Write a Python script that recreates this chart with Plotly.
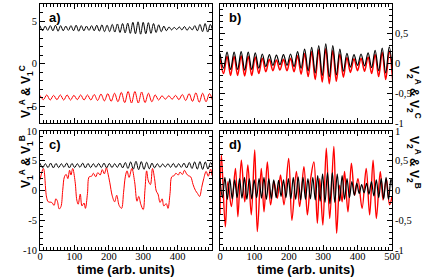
import numpy as np
import plotly.graph_objects as go

# ---------------- data ----------------
# Panel a: V1^A (black) and V1^C (red), successive peak / trough values
a_black_peaks = [4.45, 4.4, 4.45, 4.5, 4.45, 4.4, 4.45, 4.5, 4.45, 4.4, 4.45, 4.5, 4.55, 4.5, 4.6, 4.65, 4.7,
                 4.75, 4.85, 4.9, 4.85, 4.8, 4.7, 4.55, 4.4, 4.3, 4.25, 4.3, 4.35, 4.3, 4.45, 4.6, 4.7, 4.6]
a_black_troughs = [3.85, 3.9, 3.85, 3.8, 3.85, 3.9, 3.85, 3.8, 3.85, 3.9, 3.85, 3.8, 3.75, 3.75, 3.7, 3.65, 3.6,
                   3.55, 3.5, 3.45, 3.5, 3.55, 3.65, 3.75, 3.85, 3.95, 4.0, 3.95, 3.9, 3.95, 3.85, 3.75, 3.7, 3.75]
a_red_peaks = [-3.75, -3.7, -3.75, -3.7, -3.7, -3.75, -3.7, -3.7, -3.65, -3.6, -3.55, -3.5, -3.4, -3.3, -3.3,
               -3.35, -3.5, -3.7, -3.8, -3.8, -3.75, -3.65, -3.55, -3.45, -3.5, -3.55]
a_red_troughs = [-4.25, -4.3, -4.25, -4.3, -4.3, -4.25, -4.3, -4.3, -4.35, -4.4, -4.45, -4.5, -4.6, -4.65, -4.65,
                 -4.6, -4.5, -4.3, -4.2, -4.2, -4.25, -4.35, -4.45, -4.55, -4.5, -4.45]

# Panel b: V2^A (black) and V2^C (red)
b_black_peaks = [0.17, 0.19, 0.19, 0.2, 0.19, 0.18, 0.16, 0.15, 0.14, 0.15, 0.16, 0.2, 0.24, 0.27, 0.3, 0.33,
                 0.3, 0.24, 0.17, 0.15, 0.16, 0.18, 0.22, 0.26, 0.28]
b_black_troughs = [-0.08, -0.1, -0.1, -0.11, -0.1, -0.08, -0.05, -0.03, -0.02, -0.03, -0.05, -0.08, -0.12, -0.16,
                   -0.2, -0.22, -0.19, -0.13, -0.06, -0.03, -0.04, -0.07, -0.12, -0.16, -0.18]
b_red_peaks = [0.1, 0.12, 0.12, 0.13, 0.12, 0.11, 0.09, 0.07, 0.06, 0.07, 0.09, 0.13, 0.17, 0.2, 0.23, 0.25,
               0.22, 0.16, 0.1, 0.08, 0.09, 0.11, 0.15, 0.19, 0.21]
b_red_troughs = [-0.17, -0.2, -0.2, -0.21, -0.2, -0.17, -0.14, -0.12, -0.11, -0.12, -0.14, -0.18, -0.22, -0.27,
                 -0.31, -0.34, -0.3, -0.23, -0.15, -0.12, -0.13, -0.17, -0.22, -0.27, -0.3]

# Panel c: V1^A (black) and V1^B (red)
c_black_peaks = [4.6, 4.5, 4.6, 4.55, 4.5, 4.6, 4.55, 4.5, 4.6, 4.55, 4.5, 4.55, 4.6, 4.55, 4.5, 4.6, 4.7, 4.8,
                 4.9, 4.85, 4.75, 4.6, 4.5, 4.45, 4.5, 4.55, 4.5, 4.6, 4.7, 4.8, 4.85, 4.8, 4.7]
c_black_troughs = [3.8, 3.85, 3.8, 3.85, 3.9, 3.8, 3.85, 3.9, 3.8, 3.85, 3.9, 3.85, 3.8, 3.85, 3.9, 3.8, 3.7, 3.6,
                   3.5, 3.55, 3.65, 3.8, 3.9, 3.95, 3.9, 3.85, 3.9, 3.8, 3.7, 3.6, 3.55, 3.6, 3.7]
c_red_t = [0, 10, 19, 24, 34, 41, 46, 50, 56, 61, 66, 71, 76, 81, 86, 90, 95, 102, 107, 111,
           117, 122, 128, 132, 138, 143, 150, 155, 162, 168, 175, 181, 187, 193, 197, 203, 210, 217, 223, 230,
           237, 243, 248, 253, 259, 267, 275, 282, 287, 293, 300, 305, 310, 315, 321, 327, 333, 338, 343, 349,
           355, 360, 367, 372, 378, 383, 390, 395, 402, 407, 414, 420, 426, 431, 438, 445, 452, 458, 464, 470,
           476, 483, 489, 496, 500]
c_red_v = [1.8, 3.7, -1.1, -1.9, -2.0, -2.5, -1.4, -1.7, -3.1, -2.7, 0.0, 2.3, 2.7, 2.0, 3.4, 2.6, 3.7, 1.5, -1.6, -2.3,
           -0.6, -2.6, -2.1, -3.0, -0.5, 2.3, 2.4, 2.9, 2.3, 3.0, 2.6, 3.5, 2.8, 3.8, 3.0, 1.3, -0.9, -1.9, -0.8, -2.5,
           -3.0, -0.3, 2.3, 3.3, 2.2, 3.7, 1.5, -1.8, -1.0, -2.3, -3.2, 0.0, 3.3, 1.6, 1.0, 3.7, 2.0, -0.1, -0.6, -2.0,
           -1.4, -2.6, -2.2, -3.0, -0.5, 2.3, 2.5, 2.9, 2.6, 3.1, 2.7, 3.4, 2.8, 2.5, 2.3, 1.0, 0.0, -0.5, -1.0, 0.5,
           2.0, 3.2, 2.4, 3.6, 2.5]

# Panel d: V2^A (black) and V2^B (red)
d_black_peaks = [0.2, 0.22, 0.2, 0.18, 0.2, 0.22, 0.2, 0.18, 0.2, 0.22, 0.2, 0.18, 0.17, 0.18, 0.2, 0.22, 0.23,
                 0.22, 0.2, 0.22, 0.25, 0.28, 0.3, 0.3, 0.28, 0.25, 0.2, 0.15, 0.12, 0.1, 0.12, 0.15, 0.18, 0.2,
                 0.22, 0.2]
d_black_troughs = [-0.12, -0.15, -0.14, -0.12, -0.13, -0.15, -0.14, -0.12, -0.13, -0.15, -0.14, -0.12, -0.1,
                   -0.12, -0.14, -0.15, -0.16, -0.15, -0.14, -0.16, -0.18, -0.2, -0.22, -0.2, -0.18, -0.15, -0.12,
                   -0.08, -0.05, -0.04, -0.06, -0.09, -0.12, -0.14, -0.15, -0.14]
d_red_t = [0, 4, 15.5, 23, 33, 45, 52, 62, 72, 81, 91, 101, 108.5, 120, 128, 137.6, 147, 157, 166.7, 176,
           186, 199.6, 209, 222, 231.6, 244, 254, 263.6, 273, 283, 290, 299, 309, 319, 331, 339, 348, 355, 362, 372,
           382, 391.5, 401, 413, 425, 435, 445, 454.5, 466, 474, 483.5, 493, 500]
d_red_v = [-0.4, 0.6, -0.61, 0.15, -0.27, 0.37, -0.44, 0.51, -0.19, 0.43, -0.41, 0.68, -0.69, 0.37, -0.36, 0.48,
           -0.24, 0.15, -0.13, 0.26, -0.24, 0.54, -0.5, 0.32, -0.27, 0.4, -0.41, 0.2, 0.48, -0.55, 0.2, -0.58, 0.71,
           -0.47, 0.74, -0.72, 0.09, -0.19, 0.32, -0.36, 0.46, -0.08, 0.2, -0.3, 0.37, -0.41, 0.51, -0.47, 0.32,
           -0.16, 0.2, -0.24, -0.1]

# half-periods (time between successive extremes) of the oscillating series
hp_a_black, hp_a_red, hp_b, hp_c_black, hp_d_black = 7.5, 9.85, 10.25, 7.75, 7.1

# tick labels
x_tickvals = [0, 100, 200, 300, 400, 500]
x_ticktext_c = ["0", "100", "200", "300", "400", ""]
x_ticktext_d = ["0", "100", "200", "300", "400", "500"]
ya_tickvals = [-5, 0, 5]
ya_ticktext = ["-5", "0", "5"]
yc_tickvals = [-10, -5, 0, 5, 10]
yc_ticktext = ["-10", "-5", "0", "5", "10"]
yr_tickvals = [-1, -0.5, 0, 0.5, 1]
yr_ticktext = ["-1", "-0,5", "0", "0,5", "1"]


def interleave(peaks, troughs, hp):
    vals = []
    for p, q in zip(peaks, troughs):
        vals += [p, q]
    t = np.arange(len(vals)) * hp
    return t, vals


fig = go.Figure()


def add(t, v, color, xa, ya, width=1.0):
    fig.add_trace(go.Scatter(x=t, y=v, mode="lines", xaxis=xa, yaxis=ya,
                             line=dict(color=color, width=width, shape="spline", smoothing=1.0),
                             showlegend=False, hoverinfo="skip"))


RED = "#ff0000"
add(*interleave(a_black_peaks, a_black_troughs, hp_a_black), "black", "x", "y")
add(*interleave(a_red_peaks, a_red_troughs, hp_a_red), RED, "x", "y")
add(*interleave(b_red_peaks, b_red_troughs, hp_b), RED, "x2", "y2", 1.5)
add(*interleave(b_black_peaks, b_black_troughs, hp_b), "black", "x2", "y2", 1.2)
add(*interleave(c_black_peaks, c_black_troughs, hp_c_black), "black", "x3", "y3")
add(c_red_t, c_red_v, RED, "x3", "y3")
add(d_red_t, d_red_v, RED, "x4", "y4", 1.4)
add(*interleave(d_black_peaks, d_black_troughs, hp_d_black), "black", "x4", "y4", 1.2)

TICKFONT = dict(family="Liberation Serif", size=10.5, color="black")
common = dict(showline=True, linecolor="black", linewidth=1, mirror="ticks", ticks="inside",
              ticklen=5, tickwidth=1, tickcolor="black", showgrid=False, zeroline=False,
              tickfont=TICKFONT, automargin=False)

xl = [0, 172 / 352]
xr = [180 / 352, 1]
yt = [127 / 246, 1]
yb = [0, 119 / 246]

xminor = dict(ticks="inside", ticklen=3, dtick=10, tickcolor="black", showgrid=False)
fig.update_layout(
    xaxis=dict(domain=xl, anchor="y", range=[0, 500], tickvals=x_tickvals, showticklabels=False,
               minor=xminor, **common),
    xaxis2=dict(domain=xr, anchor="y2", range=[0, 500], tickvals=x_tickvals, showticklabels=False,
                minor=xminor, **common),
    xaxis3=dict(domain=xl, anchor="y3", range=[0, 500], tickvals=x_tickvals, ticktext=x_ticktext_c,
                ticklabelstandoff=-4, minor=xminor, **common),
    xaxis4=dict(domain=xr, anchor="y4", range=[0, 500], tickvals=x_tickvals, ticktext=x_ticktext_d,
                ticklabelstandoff=-4, minor=xminor, **common),
    yaxis=dict(domain=yt, anchor="x", range=[-7, 7], tickvals=ya_tickvals, ticktext=ya_ticktext,
               minor=dict(ticks="inside", ticklen=3, dtick=1, tickcolor="black"), **common),
    yaxis2=dict(domain=yt, anchor="x2", range=[-1, 1], side="right", tickvals=yr_tickvals,
                ticktext=yr_ticktext,
                minor=dict(ticks="inside", ticklen=3, dtick=0.1, tickcolor="black"), **common),
    yaxis3=dict(domain=yb, anchor="x3", range=[-10, 10], tickvals=yc_tickvals, ticktext=yc_ticktext,
                minor=dict(ticks="inside", ticklen=3, dtick=1, tickcolor="black"), **common),
    yaxis4=dict(domain=yb, anchor="x4", range=[-1, 1], side="right", tickvals=yr_tickvals,
                ticktext=yr_ticktext,
                minor=dict(ticks="inside", ticklen=3, dtick=0.1, tickcolor="black"), **common),
    width=436, height=277,
    margin=dict(l=40, r=44, t=4, b=27),
    paper_bgcolor="white", plot_bgcolor="white",
)

TITLEFONT = dict(family="Liberation Sans", size=12, color="black", weight="bold")
ann = []
for lbl, xa, ya in [("a)", "x", "y"), ("b)", "x2", "y2"), ("c)", "x3", "y3"), ("d)", "x4", "y4")]:
    ann.append(dict(text=lbl, xref=f"{xa} domain", yref=f"{ya} domain", x=0.04, y=0.97,
                    xanchor="left", yanchor="top", showarrow=False,
                    font=dict(family="Liberation Sans", size=13, color="black", weight="bold")))
for xa in ["x3", "x4"]:
    ann.append(dict(text="time (arb. units)", xref=f"{xa} domain", yref="paper", x=0.5, y=-0.078,
                    xanchor="center", yanchor="middle", showarrow=False,
                    font=dict(family="Liberation Sans", size=13, color="black", weight="bold")))
left_x = (15 - 40) / 352
right_x = (425 - 40) / 352
ann.append(dict(text="V<sub>1</sub><sup>A</sup> & V<sub>1</sub><sup>C</sup>", xref="paper", yref="paper",
                x=left_x, y=(yt[0] + yt[1]) / 2, textangle=-90, showarrow=False, font=TITLEFONT))
ann.append(dict(text="V<sub>1</sub><sup>A</sup> & V<sub>1</sub><sup>B</sup>", xref="paper", yref="paper",
                x=left_x, y=(yb[0] + yb[1]) / 2, textangle=-90, showarrow=False, font=TITLEFONT))
ann.append(dict(text="V<sub>2</sub><sup>A</sup> & V<sub>2</sub><sup>C</sup>", xref="paper", yref="paper",
                x=right_x, y=(yt[0] + yt[1]) / 2, textangle=90, showarrow=False, font=TITLEFONT))
ann.append(dict(text="V<sub>2</sub><sup>A</sup> & V<sub>2</sub><sup>B</sup>", xref="paper", yref="paper",
                x=right_x, y=(yb[0] + yb[1]) / 2, textangle=90, showarrow=False, font=TITLEFONT))
fig.update_layout(annotations=ann)

fig.write_html("out.html", config={"displayModeBar": False},
               post_script="document.body.style.margin='0';")
